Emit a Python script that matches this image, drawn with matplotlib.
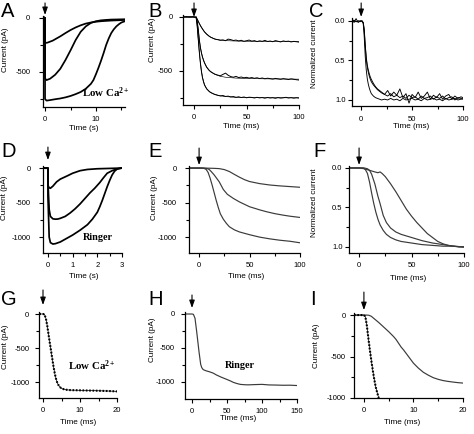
import matplotlib
matplotlib.use("Agg")
import matplotlib.pyplot as plt

plt.rcParams.update({
    "font.family": ["Liberation Sans", "DejaVu Sans"],
    "axes.unicode_minus": False,
    "mathtext.fontset": "custom",
    "mathtext.rm": "Liberation Serif:bold",
    "mathtext.bf": "Liberation Serif:bold",
    "mathtext.it": "Liberation Serif:bold",
})

W, H = 474, 434
SERIF = ["Liberation Serif", "DejaVu Serif"]
INK = "black"
GREY = "#3a3a3a"

# ---------------------------------------------------------------- data
# A: low Ca2+, flash responses (s, pA)
A1_t = [-0.4, -0.3, -0.2, -0.1, 0, 0, 0.5, 1.5, 3, 4, 5, 6, 7, 8, 9, 10, 11, 12, 13, 14, 15, 15.7]
A1 = [6, -3, 8, 2, 0, -232, -228, -210, -170, -140, -112, -88, -68, -52, -42, -35, -30, -27, -24, -22, -20, -18]
A2_t = [-0.4, 0, 0, 0.3, 1, 2, 3, 4, 5, 6, 7, 8, 9, 10, 11, 12, 13, 14, 15.7]
A2 = [0, 0, -560, -575, -562, -525, -470, -390, -300, -205, -128, -78, -46, -30, -22, -18, -15, -14, -12]
A3_t = [-0.4, 0, 0, 0.3, 1, 2, 3, 4, 5, 6, 7, 8, 9, 9.5, 10, 10.5, 11, 11.5, 12, 12.5, 13, 13.5, 14, 14.5, 15, 15.7]
A3 = [0, 0, -750, -765, -760, -752, -745, -735, -722, -705, -685, -655, -610, -575, -520, -460, -395, -325, -250, -190, -140, -105, -78, -58, -42, -30]

# B: onset of the same responses (ms, pA), recorded trace + fit
B_t = [-10, -7, -4, -1, 1, 2, 3, 4, 5, 6, 7, 8, 9, 10, 12, 14, 16, 18, 20,
       22.5, 25, 27.5, 30, 32.5, 35, 37.5, 40, 42.5, 45, 47.5, 50, 52.5, 55, 57.5, 60,
       62.5, 65, 67.5, 70, 72.5, 75, 77.5, 80, 82.5, 85, 87.5, 90, 92.5, 95, 97.5, 100]
B1 = [0, 3, -2, 2, 0, -2, -20, -40, -60, -78, -95, -110, -125, -138, -158, -175, -188, -197, -205,
      -210, -216, -212, -220, -205, -210, -218, -214, -222, -216, -226, -220, -214, -224, -219, -228,
      -221, -226, -217, -227, -223, -229, -219, -225, -231, -222, -227, -224, -231, -226, -229, -233]
B2 = [0, -2, 2, 0, -2, -3, -40, -110, -210, -280, -330, -370, -400, -425, -465, -490, -508, -520, -530,
      -538, -545, -532, -520, -540, -552, -558, -550, -561, -556, -563, -559, -566, -561, -568, -563,
      -570, -565, -572, -567, -571, -575, -569, -573, -577, -571, -575, -579, -573, -577, -581, -584]
B3 = [0, 1, -1, 0, -3, -5, -80, -200, -320, -420, -500, -560, -600, -630, -665, -685, -700, -710, -718,
      -725, -731, -727, -736, -733, -740, -737, -744, -739, -746, -741, -748, -743, -745, -750, -744,
      -749, -746, -752, -745, -750, -747, -753, -746, -751, -748, -744, -750, -747, -752, -748, -751]
BF_t = [2, 3, 4, 5, 6, 7, 8, 10, 12, 15, 20, 25, 30, 40, 50, 70, 100]
BF1 = [0, -20, -40, -60, -78, -95, -110, -138, -160, -183, -205, -214, -219, -223, -225, -226, -227]
BF2 = [0, -45, -115, -205, -275, -328, -368, -425, -463, -500, -532, -549, -558, -566, -570, -573, -576]
BF3 = [0, -85, -205, -320, -418, -498, -556, -628, -664, -695, -718, -730, -737, -744, -746, -748, -748]

# C: normalized onsets (ms)
C_t = [-9, -7, -5, -3, -1, 0, 1, 2, 3, 4, 5, 6, 7, 8, 9, 10, 12, 14, 16, 18, 20,
       23, 26, 29, 32, 35, 38, 41, 44, 47, 50, 53, 56, 59, 62, 65, 68, 71, 74, 77, 80,
       83, 86, 89, 92, 95, 98, 100]
C1 = [-0.03, 0.02, -0.03, 0.02, 0.0, 0.0, 0.01, 0.02, 0.1, 0.3, 0.46, 0.56, 0.62, 0.67, 0.71, 0.74,
      0.79, 0.83, 0.86, 0.88, 0.9,
      0.93, 0.88, 0.95, 0.9, 0.94, 0.86, 0.97, 0.92, 1.04, 0.93, 0.97, 0.9, 0.98, 0.95, 0.9, 0.99,
      0.94, 0.97, 0.92, 0.99, 0.95, 0.93, 0.99, 0.95, 0.98, 0.96, 0.97]
C2 = [0.0, -0.01, 0.01, 0.0, 0.01, 0.0, 0.0, 0.02, 0.12, 0.32, 0.48, 0.58, 0.65, 0.7, 0.74, 0.77,
      0.81, 0.84, 0.87, 0.89, 0.91,
      0.93, 0.95, 0.92, 0.96, 0.94, 0.97, 0.95, 0.98, 0.94, 0.97, 0.96, 0.99, 0.95, 0.98, 0.97, 0.95,
      0.99, 0.96, 0.98, 0.95, 0.99, 0.97, 0.96, 1.0, 0.97, 0.98, 0.98]
C3 = [0.0, 0.0, 0.01, 0.0, 0.0, 0.0, 0.0, 0.03, 0.2, 0.45, 0.62, 0.73, 0.8, 0.85, 0.89, 0.92,
      0.95, 0.97, 0.98, 0.99, 1.0,
      0.99, 1.0, 0.98, 1.0, 0.99, 1.01, 0.98, 1.0, 0.99, 0.98, 1.0, 0.99, 1.01, 0.98, 1.0, 0.99,
      0.98, 1.0, 0.99, 1.01, 0.98, 1.0, 0.99, 0.98, 1.0, 0.99, 0.99]

# D: Ringer, flash responses (s, pA)
D1_t = [-0.2, -0.1, 0, 0, 0.05, 0.1, 0.2, 0.35, 0.5, 0.65, 0.8, 1.0, 1.3, 1.6, 2.0, 2.5, 3.0]
D1 = [4, -3, 0, -250, -285, -292, -262, -200, -160, -135, -110, -75, -38, -20, -10, -5, 0]
D2_t = [-0.2, 0, 0, 0.05, 0.1, 0.2, 0.3, 0.4, 0.5, 0.7, 0.9, 1.1, 1.3, 1.5, 1.7, 1.9, 2.1, 2.25, 2.4, 2.6, 2.8, 3.0]
D2 = [0, 0, -200, -600, -700, -735, -740, -738, -728, -700, -650, -590, -520, -440, -360, -290, -210, -140, -75, -38, -12, 0]
D3_t = [-0.2, 0, 0, 0.05, 0.1, 0.2, 0.3, 0.5, 0.7, 1.0, 1.3, 1.6, 1.8, 2.0, 2.1, 2.2, 2.3, 2.4, 2.5, 2.6, 2.7, 2.8, 2.9, 3.0]
D3 = [0, 0, -400, -1000, -1080, -1100, -1095, -1070, -1030, -970, -900, -820, -740, -640, -560, -470, -370, -270, -180, -100, -45, -15, -5, 0]

# E: Ringer onsets (ms, pA)
E1_t = [-10, 0, 5, 10, 15, 20, 25, 30, 35, 40, 45, 50, 60, 70, 80, 90, 100]
E1 = [0, 0, 0, -2, -4, -8, -22, -50, -92, -132, -168, -195, -225, -245, -258, -268, -278]
E2_t = [-10, 0, 5, 8, 10, 12, 15, 17.5, 20, 24, 28, 34, 40, 50, 60, 67, 75, 83, 90, 100]
E2 = [0, 0, -2, -8, -20, -50, -100, -150, -200, -310, -380, -440, -490, -560, -605, -633, -660, -681, -697, -715]
E3_t = [-10, 0, 3, 5, 7, 9, 11, 13, 15, 17, 19, 21, 24, 27, 30, 35, 40, 50, 60, 70, 80, 90, 100]
E3 = [0, 0, 0, -5, -20, -65, -150, -250, -360, -470, -570, -660, -740, -800, -850, -895, -925, -965, -1000, -1025, -1045, -1060, -1082]

# F: normalized Ringer onsets (ms)
F1_t = [-9, 0, 5, 10, 15, 18, 20, 22, 25, 30, 35, 40, 45, 50, 55, 60, 65, 70, 75, 80, 85, 90, 95, 100]
F1 = [0, 0, 0.01, 0.03, 0.05, 0.06, 0.05, 0.07, 0.11, 0.2, 0.3, 0.41, 0.52, 0.61, 0.69, 0.76, 0.83, 0.88, 0.93, 0.96, 0.98, 0.99, 1.0, 1.0]
F2_t = [-9, 0, 5, 8, 10, 12, 15, 18, 20, 23, 26, 30, 35, 40, 50, 60, 70, 80, 90, 100]
F2 = [0, 0, 0, 0.01, 0.03, 0.08, 0.2, 0.36, 0.45, 0.6, 0.69, 0.76, 0.81, 0.84, 0.88, 0.92, 0.95, 0.97, 0.99, 1.0]
F3_t = [-9, 0, 4, 6, 8, 10, 12, 14, 16, 18, 20, 23, 26, 30, 35, 40, 50, 60, 70, 80, 90, 100]
F3 = [0, 0, 0, 0.02, 0.07, 0.18, 0.32, 0.45, 0.56, 0.65, 0.72, 0.79, 0.84, 0.88, 0.91, 0.93, 0.95, 0.97, 0.98, 0.99, 0.99, 1.0]

# G: low Ca2+, saturating response (ms, pA)
G_t = [-1, 0, 0.4, 0.8, 1.2, 1.6, 2.0, 2.4, 2.8, 3.2, 3.6, 4.0, 4.5, 5, 6, 7, 8, 10, 12, 14, 16, 18, 20]
G = [0, 0, -5, -70, -190, -340, -480, -620, -760, -880, -970, -1030, -1070, -1095, -1112, -1118, -1120, -1122, -1125, -1127, -1130, -1133, -1138]

# H: Ringer, saturating response (ms, pA)
H_t = [-10, 0, 2, 4.3, 6.7, 10, 12.4, 14, 16, 20, 25, 30, 35, 42, 49.5, 55, 59, 64, 69, 75, 80, 90, 100, 110, 120, 130, 140, 150]
H_v = [0, 0, -5, -63, -260, -554, -740, -790, -818, -835, -850, -868, -897, -930, -961, -985, -1005, -1022, -1035, -1040, -1042, -1038, -1035, -1043, -1045, -1048, -1047, -1052]

# I: both onsets superimposed (ms, pA)
I_t = [-2, 0, 0.5, 1.0, 1.5, 2, 3, 4, 5, 6, 6.5, 7, 7.5, 8, 9, 10, 11, 12, 13, 14, 15, 16, 17, 18, 19, 20]
I_ringer = [0, 0, 0, -2, -15, -40, -90, -145, -200, -260, -295, -340, -385, -420, -500, -580, -640, -690, -725, -755, -775, -790, -800, -808, -815, -820]
I_lowca_t = [-2, 0, 0.3, 0.6, 0.9, 1.2, 1.5, 1.8, 2.1, 2.4, 2.7, 3.0]
I_lowca = [0, 0, -20, -130, -280, -420, -550, -670, -780, -870, -940, -1000]

fig = plt.figure(figsize=(W / 100, H / 100), dpi=100)


def fx(px):
    return px / W


def fy(py):
    return 1 - py / H


def panel(box, xlim, ylim, xmaj, xmin, ymaj, ymin, ypad, yfmt="{:.0f}"):
    """Igor-style axes placed on the pixel box (left, top, right, bottom)."""
    x0, yt, x1, yb = box
    ax = fig.add_axes([fx(x0), fy(yb), (x1 - x0) / W, (yb - yt) / H])
    ax.set_xlim(*xlim)
    ax.set_ylim(*ylim)
    ax.patch.set_alpha(0)
    for s in ("top", "right"):
        ax.spines[s].set_visible(False)
    for s in ("left", "bottom"):
        ax.spines[s].set_linewidth(0.9)
    ax.set_xticks(xmaj, [f"{v:g}" for v in xmaj])
    ax.set_xticks(xmin, minor=True)
    ax.set_yticks(ymaj, [yfmt.format(v) for v in ymaj])
    ax.set_yticks(ymin, minor=True)
    ax.tick_params(which="both", direction="out", width=0.8, colors=INK, labelsize=5.5)
    ax.tick_params(which="major", length=3.2)
    ax.tick_params(which="minor", length=2.2)
    ax.tick_params(axis="y", pad=ypad)
    ax.tick_params(axis="x", pad=3.5)
    return ax


def arrow(ax, lift, length):
    p0 = ax.transData.transform((0, 0))
    tip = ax.transData.inverted().transform((p0[0], p0[1] + lift))
    ax.annotate("", xy=tip, xycoords="data", xytext=(0, length), textcoords="offset pixels",
                annotation_clip=False,
                arrowprops=dict(arrowstyle="-|>,head_length=0.45,head_width=0.16",
                                lw=0.8, color=INK, shrinkA=0, shrinkB=0))


def label(x, y, s, rot=0):
    fig.text(fx(x), fy(y), s, rotation=rot, ha="center", va="center", fontsize=5.9)


def letter(x, y, s):
    fig.text(fx(x), fy(y), s, ha="left", va="top", fontsize=14.5)


CUR = "Current (pA)"
NORM = "Normalized current"

# A
ax = panel((43, 15.8, 125, 107), (-0.4, 15.7), (-824, 20), [0, 10], [5, 15],
           [0, -500], [-250, -750], 6.0)
for t, v in ((A1_t, A1), (A2_t, A2), (A3_t, A3)):
    ax.plot(t, v, color=INK, lw=1.25)
ax.text(7.2, -731, r"Low Ca$^{2+}$", fontsize=7.8, fontweight="bold", family=SERIF)
arrow(ax, 3, 12)

# B
ax = panel((183, 14.8, 299, 105), (-10.5, 100), (-815, 20), [0, 50, 100], [25, 75],
           [0, -500], [-250, -750], 4.0)
for v, f in ((B1, BF1), (B2, BF2), (B3, BF3)):
    ax.plot(B_t, v, color=INK, lw=0.7)
    ax.plot(BF_t, f, color=INK, lw=0.45)
arrow(ax, 0, 14)

# C
ax = panel((352, 17.8, 463, 106.3), (-9, 100), (1.08, -0.04), [0, 50, 100], [25, 75],
           [0.0, 0.5, 1.0], [0.25, 0.75], 1.5, yfmt="{:.1f}")
for v in (C1, C2, C3):
    ax.plot(C_t, v, color=INK, lw=0.65)
arrow(ax, 4, 14)

# D
ax = panel((43, 166, 122, 253), (-0.2, 3.0), (-1230, 30), [0, 1, 2, 3], [0.5, 1.5, 2.5],
           [0, -500, -1000], [-250, -750], 5.5)
for t, v in ((D1_t, D1), (D2_t, D2), (D3_t, D3)):
    ax.plot(t, v, color=INK, lw=1.25)
ax.text(1.42, -1043, "Ringer", fontsize=7.3, fontweight="bold", family=SERIF)
arrow(ax, 8, 13)

# E
ax = panel((189, 166, 300, 253), (-10, 100), (-1230, 30), [0, 50, 100], [25, 75],
           [0, -500, -1000], [-250, -750], 5.5)
for t, v in ((E1_t, E1), (E2_t, E2), (E3_t, E3)):
    ax.plot(t, v, color=GREY, lw=0.85)
arrow(ax, 3, 17)

# F
ax = panel((349, 165.6, 464, 252.5), (-9.6, 100), (1.07, -0.03), [0, 50, 100], [25, 75],
           [0.0, 0.5, 1.0], [0.25, 0.75], 1.5, yfmt="{:.1f}")
for t, v in ((F1_t, F1), (F2_t, F2), (F3_t, F3)):
    ax.plot(t, v, color=GREY, lw=0.85)
arrow(ax, 3, 17)

# G
ax = panel((39.3, 312.3, 117, 398), (-1, 20), (-1235, 25), [0, 10, 20], [5, 15],
           [0, -500, -1000], [-250, -750], 4.0)
ax.plot(G_t, G, color=INK, lw=0.5)
ax.plot(G_t, G, color=INK, lw=1.5, ls=(0, (0.8, 0.8)))
ax.text(6.8, -824, r"Low Ca$^{2+}$", fontsize=7.8, fontweight="bold", family=SERIF)
arrow(ax, 9, 15)

# H
ax = panel((185, 312.3, 297, 399), (-10, 150), (-1250, 25), [0, 50, 100, 150], [25, 75, 125],
           [0, -500, -1000], [-250, -750], 4.0)
ax.plot(H_t, H_v, color=GREY, lw=0.85)
ax.text(47, -794, "Ringer", fontsize=7.3, fontweight="bold", family=SERIF)
arrow(ax, 6, 13)

# I
ax = panel((354, 313, 463, 398), (-2, 20), (-1000, 25), [0, 10, 20], [5, 15],
           [0, -500, -1000], [-250, -750], 3.0)
ax.plot(I_t, I_ringer, color=GREY, lw=0.85)
ax.plot(I_lowca_t, I_lowca, color=INK, lw=0.5)
ax.plot(I_lowca_t, I_lowca, color=INK, lw=1.5, ls=(0, (0.8, 0.8)))
arrow(ax, 5, 18)

# axis titles
label(84, 128, "Time (s)")
label(241, 127, "Time (ms)")
label(411, 127, "Time (ms)")
label(84, 277, "Time (s)")
label(246, 277, "Time (ms)")
label(408, 278, "Time (ms)")
label(78, 422, "Time (ms)")
label(238, 419, "Time (ms)")
label(402, 422, "Time (ms)")

label(6, 50, CUR, 90)
label(153, 40, CUR, 90)
label(314, 54, NORM, 90)
label(5, 198, CUR, 90)
label(154, 198, CUR, 90)
label(315, 203, NORM, 90)
label(6, 347, CUR, 90)
label(152, 340, CUR, 90)
label(316, 346, CUR, 90)

letter(1, 2, "A")
letter(148, 2, "B")
letter(309, 2, "C")
letter(1, 142, "D")
letter(148, 142, "E")
letter(313, 142, "F")
letter(1, 290, "G")
letter(148, 290, "H")
letter(310, 290, "I")

fig.savefig("out.png", dpi=100)
